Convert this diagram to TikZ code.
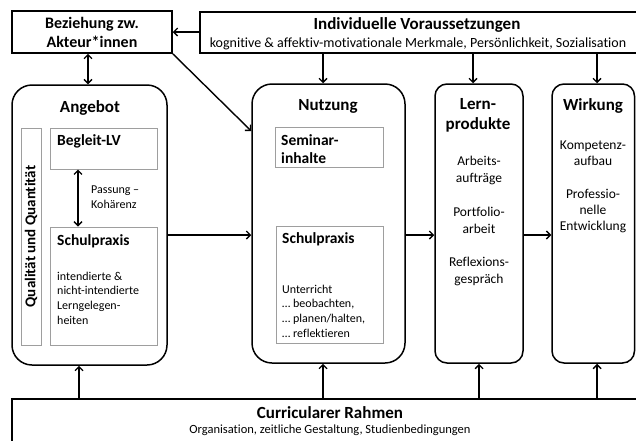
\documentclass[tikz,border=0pt]{standalone}
\usepackage{fontspec}
\setmainfont{Carlito}[Ligatures=NoCommon]
\usetikzlibrary{arrows.meta}
\newcommand\hdrfont{\fontsize{17}{20}\selectfont\bfseries}
\newcommand\ttlfont{\fontsize{15.5}{18}\selectfont\bfseries}
\newcommand\txtfont{\fontsize{12}{14.7}\selectfont}
\newcommand\lrnfont{\fontsize{13.5}{17}\selectfont}
\begin{document}
\begin{tikzpicture}[x=1pt,y=-1pt,
  outerbox/.style={draw=black,line width=1.5pt,inner sep=0pt,fill=white},
  roundbox/.style={outerbox,rounded corners=#1},
  innerbox/.style={draw=black!38,line width=1pt,inner sep=0pt,fill=white},
  lbl/.style={inner sep=0pt,align=left},
  clbl/.style={inner sep=0pt,align=center},
  arr/.style={line width=1.4pt,-{Straight Barb[length=4pt,width=8pt]}},
  darr/.style={line width=1.4pt,{Straight Barb[length=4pt,width=8pt]}-{Straight Barb[length=4pt,width=8pt]}}
]
\useasboundingbox (0,0) rectangle (636,440);
\fill[white] (0,0) rectangle (636,440);

% boxes
\node[outerbox,minimum width=160pt,minimum height=42pt,align=center,font=\fontsize{16}{19}\selectfont\bfseries] (bez) at (92,32) {Beziehung zw.\\Akteur*innen};
\node[outerbox,minimum width=450pt,minimum height=41pt] (ind) at (425,32.5) {};
\node[roundbox=20pt,minimum width=155pt,minimum height=280pt] (ang) at (89.5,225) {};
\node[innerbox,minimum width=20pt,minimum height=217pt] (qual) at (31,236.5) {};
\node[innerbox,minimum width=107pt,minimum height=41pt] (begl) at (103.5,148.5) {};
\node[innerbox,minimum width=107pt,minimum height=118pt] (schul1) at (103.5,286) {};
\node[roundbox=20pt,minimum width=153pt,minimum height=279pt] (nutz) at (328.5,223.5) {};
\node[innerbox,minimum width=108pt,minimum height=40pt] (sem) at (329,147) {};
\node[innerbox,minimum width=107pt,minimum height=117pt] (schul2) at (329.5,284.5) {};
\node[roundbox=12pt,minimum width=88pt,minimum height=279pt] (lern) at (479,223.5) {};
\node[roundbox=12pt,minimum width=82.5pt,minimum height=279pt] (wirk) at (593.25,223.5) {};
\node[outerbox,minimum width=640pt,minimum height=46pt] (cur) at (332,422) {};

% texts
\node[clbl,font=\hdrfont] (indT) at (417,25) {Individuelle Voraussetzungen};
\node[clbl,font=\fontsize{14}{16}\selectfont] (indS) at (418,44) {kognitive \& affektiv-motivationale Merkmale, Persönlichkeit, Sozialisation};
\node[clbl,font=\hdrfont] (curT) at (330,413) {Curricularer Rahmen};
\node[clbl,font=\fontsize{12.5}{15}\selectfont] (curS) at (330,430) {Organisation, zeitliche Gestaltung, Studienbedingungen};

\node[clbl,font=\hdrfont] (angT) at (90,108) {Angebot};
\node[clbl,font=\fontsize{15}{18}\selectfont\bfseries,rotate=90] (qualT) at (31,236.5) {Qualität und Quantität};
\node[lbl,anchor=west,font=\ttlfont] (beglT) at (57,141) {Begleit-LV};
\node[lbl,anchor=west,font=\txtfont] (pass) at (91,197.5) {Passung –\\Kohärenz};
\node[lbl,anchor=west,font=\ttlfont] (schul1T) at (57,241) {Schulpraxis};
\node[lbl,anchor=west,font=\txtfont] (schul1S) at (57,298) {intendierte \&\\nicht-intendierte\\Lerngelegen-\\heiten};

\node[clbl,font=\hdrfont] (nutzT) at (328,106) {Nutzung};
\node[lbl,anchor=west,font=\fontsize{15.5}{18}\selectfont\bfseries] (semT) at (281,149) {Seminar-\\inhalte};
\node[lbl,anchor=west,font=\ttlfont] (schul2T) at (282,239) {Schulpraxis};
\node[lbl,anchor=west,font=\txtfont] (schul2S) at (282,311) {Unterricht\\… beobachten,\\… planen/halten,\\… reflektieren};

\node[clbl,font=\hdrfont] (lernT) at (478,115) {Lern-\\produkte};
\node[clbl,font=\lrnfont] (l1) at (479,170.5) {Arbeits-\\aufträge};
\node[clbl,font=\lrnfont] (l2) at (479,220.5) {Portfolio-\\arbeit};
\node[clbl,font=\lrnfont] (l3) at (479,271.5) {Reflexions-\\gespräch};

\node[clbl,font=\hdrfont] (wirkT) at (593,106) {Wirkung};
\node[clbl,font=\fontsize{13.5}{16}\selectfont] (w1) at (593,153) {Kompetenz-\\aufbau};
\node[clbl,font=\fontsize{13.5}{16}\selectfont] (w2) at (593,211) {Professio-\\nelle\\Entwicklung};

% helper coordinates
\coordinate (xa) at (79,0);
\coordinate (xn) at (323,0);
\coordinate (xl) at (473,0);
\coordinate (xlb) at (479,0);
\coordinate (xw) at (597,0);
\coordinate (xb) at (88,0);
\coordinate (xp) at (78,0);
\coordinate (ym) at (0,235);
\coordinate (yd) at (0,131);

% connectors
\draw[arr] (ind.west |- bez.east) -- (bez.east);
\draw[darr] (bez.south -| xb) -- (ang.north -| xb);
\draw[arr] (bez.south east) -- (nutz.west |- yd);
\draw[arr] (ind.south -| xn) -- (nutz.north -| xn);
\draw[arr] (ind.south -| xl) -- (lern.north -| xl);
\draw[arr] (ind.south -| xw) -- (wirk.north -| xw);
\draw[darr] (begl.south -| xp) -- (schul1.north -| xp);
\draw[arr] (ang.east |- ym) -- (nutz.west |- ym);
\draw[arr] (nutz.east |- ym) -- (lern.west |- ym);
\draw[arr] (lern.east |- ym) -- (wirk.west |- ym);
\draw[arr] (cur.north -| xa) -- (ang.south -| xa);
\draw[arr] (cur.north -| xn) -- (nutz.south -| xn);
\draw[arr] (cur.north -| xlb) -- (lern.south -| xlb);
\draw[arr] (cur.north -| xw) -- (wirk.south -| xw);
\end{tikzpicture}
\end{document}
